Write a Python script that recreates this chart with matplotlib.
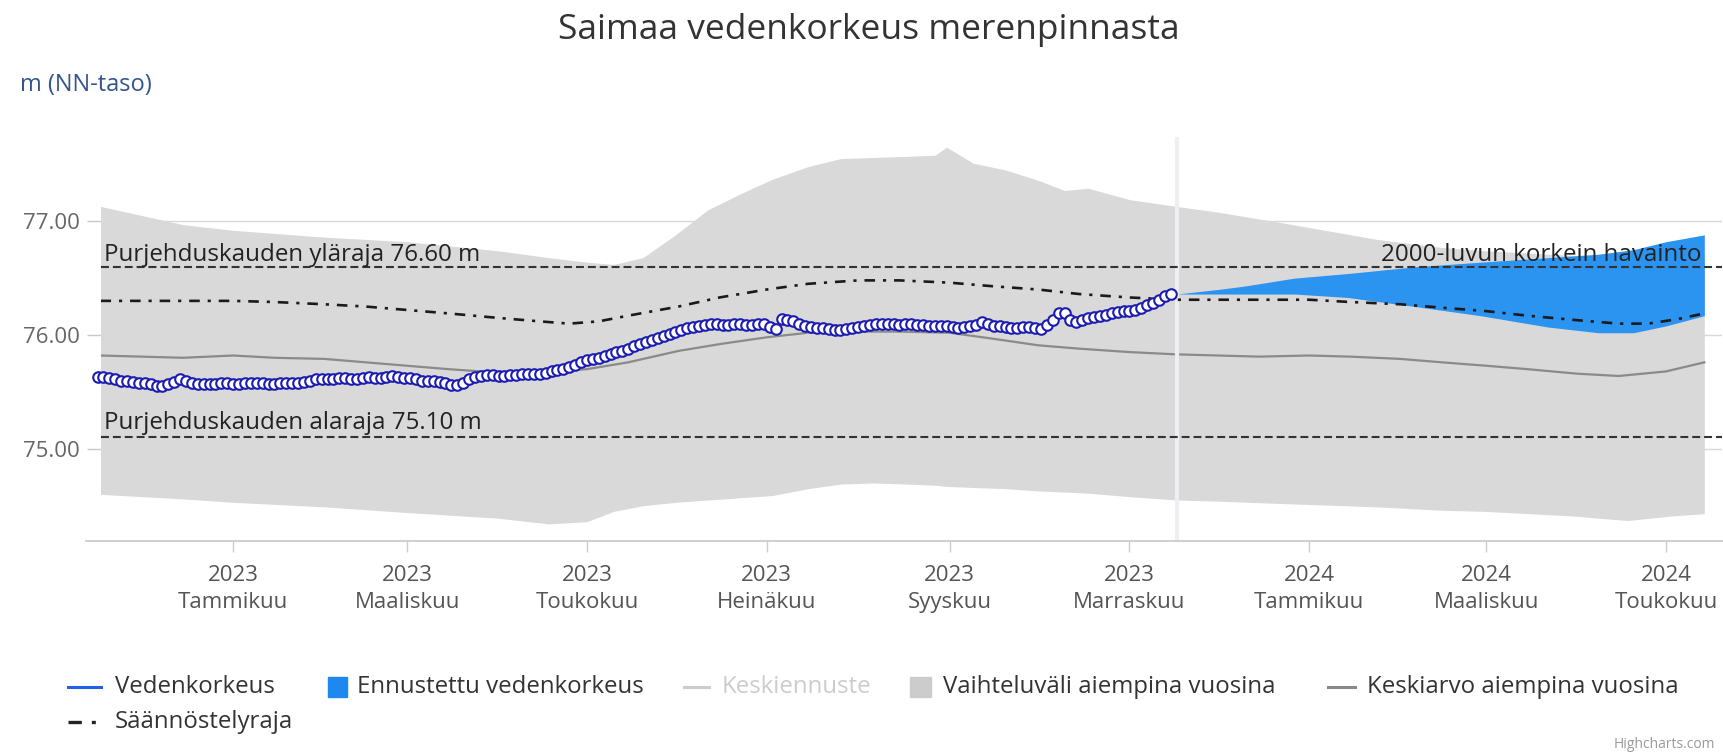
import pandas as pd
import matplotlib
matplotlib.use('Agg')
import matplotlib.pyplot as plt
from matplotlib.lines import Line2D
from matplotlib.patches import Rectangle

plt.rcParams['font.family'] = ['Open Sans', 'DejaVu Sans']

# havaittu vedenkorkeus, 2 päivän välein alkaen 2022-11-16
obs_start = '2022-11-16'
obs_values = [
    75.63, 75.63, 75.62, 75.61, 75.60, 75.60, 75.59, 75.58, 75.58, 75.57,
    75.55, 75.55, 75.57, 75.59, 75.61, 75.60, 75.58, 75.57, 75.57, 75.57,
    75.57, 75.58, 75.58, 75.57, 75.57, 75.58, 75.58, 75.58, 75.58, 75.57,
    75.57, 75.58, 75.58, 75.58, 75.58, 75.59, 75.60, 75.61, 75.61, 75.61,
    75.61, 75.62, 75.62, 75.61, 75.61, 75.62, 75.63, 75.62, 75.62, 75.63,
    75.64, 75.63, 75.62, 75.62, 75.61, 75.60, 75.60, 75.60, 75.59, 75.58,
    75.56, 75.56, 75.58, 75.61, 75.63, 75.64, 75.65, 75.65, 75.64, 75.64,
    75.65, 75.65, 75.66, 75.66, 75.66, 75.66, 75.67, 75.68, 75.69, 75.70,
    75.72, 75.74, 75.76, 75.78, 75.79, 75.80, 75.82, 75.83, 75.85, 75.86,
    75.88, 75.90, 75.92, 75.94, 75.96, 75.97, 75.99, 76.01, 76.03, 76.04,
    76.06, 76.07, 76.08, 76.09, 76.10, 76.10, 76.09, 76.09, 76.10, 76.10,
    76.09, 76.09, 76.10, 76.10, 76.07, 76.05, 76.14, 76.13, 76.12, 76.10,
    76.08, 76.07, 76.06, 76.06, 76.05, 76.04, 76.04, 76.05, 76.06, 76.07,
    76.08, 76.09, 76.10, 76.10, 76.10, 76.10, 76.09, 76.10, 76.10, 76.09,
    76.09, 76.08, 76.08, 76.08, 76.08, 76.07, 76.06, 76.07, 76.08, 76.09,
    76.11, 76.10, 76.08, 76.08, 76.07, 76.06, 76.06, 76.07, 76.07, 76.06,
    76.05, 76.09, 76.13, 76.19, 76.19, 76.13, 76.11, 76.13, 76.15, 76.16,
    76.17, 76.18, 76.19, 76.20, 76.21, 76.21, 76.22, 76.24, 76.26, 76.28,
    76.31, 76.34, 76.36,
]

# vaihteluväli aiempina vuosina
band_dates = [
    '2022-11-17', '2022-12-01', '2022-12-15', '2023-01-01', '2023-02-01',
    '2023-03-01', '2023-04-01', '2023-04-18', '2023-05-01', '2023-05-10',
    '2023-05-20', '2023-05-31', '2023-06-11', '2023-06-22', '2023-07-03',
    '2023-07-15', '2023-07-26', '2023-08-06', '2023-08-18', '2023-08-27',
    '2023-08-31', '2023-09-09', '2023-09-20', '2023-10-01', '2023-10-10',
    '2023-10-18', '2023-11-01', '2023-11-17', '2023-12-01', '2023-12-22',
    '2024-01-24', '2024-02-15', '2024-03-01', '2024-03-30', '2024-04-18',
    '2024-05-03', '2024-05-14',
]
band_high = [
    77.13, 77.05, 76.97, 76.92, 76.86, 76.82, 76.74, 76.68, 76.64, 76.62,
    76.68, 76.88, 77.10, 77.24, 77.37, 77.48, 77.55, 77.56, 77.57, 77.58,
    77.65, 77.51, 77.45, 77.36, 77.27, 77.29, 77.19, 77.13, 77.08, 76.99,
    76.84, 76.77, 76.74, 76.70, 76.68, 76.68, 76.68,
]
band_low = [
    74.60, 74.58, 74.56, 74.53, 74.49, 74.44, 74.39, 74.34, 74.36, 74.45,
    74.50, 74.53, 74.55, 74.57, 74.59, 74.65, 74.69, 74.70, 74.69, 74.68,
    74.67, 74.66, 74.65, 74.63, 74.62, 74.61, 74.58, 74.55, 74.54, 74.52,
    74.49, 74.46, 74.45, 74.41, 74.37, 74.41, 74.43,
]

# keskiarvo aiempina vuosina
mean_dates = [
    '2022-11-17', '2022-12-01', '2022-12-15', '2023-01-01', '2023-01-15',
    '2023-02-01', '2023-02-15', '2023-03-01', '2023-03-15', '2023-04-01',
    '2023-04-15', '2023-05-01', '2023-05-15', '2023-06-01', '2023-06-15',
    '2023-07-01', '2023-07-15', '2023-08-01', '2023-08-15', '2023-09-01',
    '2023-09-15', '2023-10-01', '2023-10-15', '2023-11-01', '2023-11-17',
    '2023-12-01', '2023-12-15', '2024-01-01', '2024-01-15', '2024-02-01',
    '2024-02-15', '2024-03-01', '2024-03-15', '2024-04-01', '2024-04-15',
    '2024-05-01', '2024-05-14',
]
mean_values = [
    75.82, 75.81, 75.80, 75.82, 75.80, 75.79, 75.76, 75.73, 75.70, 75.67,
    75.67, 75.70, 75.76, 75.86, 75.92, 75.98, 76.02, 76.03, 76.03, 76.02,
    75.97, 75.91, 75.88, 75.85, 75.83, 75.82, 75.81, 75.82, 75.81, 75.79,
    75.76, 75.73, 75.70, 75.66, 75.64, 75.68, 75.76,
]

# säännöstelyraja
reg_dates = [
    '2022-11-17', '2022-12-15', '2023-01-01', '2023-01-15', '2023-02-01',
    '2023-02-15', '2023-03-01', '2023-03-15', '2023-04-01', '2023-04-15',
    '2023-04-25', '2023-05-05', '2023-05-15', '2023-06-01', '2023-06-15',
    '2023-07-01', '2023-07-15', '2023-08-01', '2023-08-15', '2023-09-01',
    '2023-09-15', '2023-10-01', '2023-10-15', '2023-11-01', '2023-11-17',
    '2023-12-15', '2024-01-01', '2024-01-15', '2024-02-01', '2024-02-15',
    '2024-03-01', '2024-03-15', '2024-04-01', '2024-04-15', '2024-04-25',
    '2024-05-05', '2024-05-14',
]
reg_values = [
    76.30, 76.30, 76.30, 76.29, 76.27, 76.25, 76.22, 76.19, 76.15, 76.12,
    76.10, 76.12, 76.17, 76.25, 76.33, 76.40, 76.45, 76.48, 76.48, 76.46,
    76.43, 76.40, 76.36, 76.33, 76.31, 76.31, 76.31, 76.29, 76.27, 76.24,
    76.21, 76.17, 76.13, 76.10, 76.10, 76.14, 76.19,
]

# ennustettu vedenkorkeus
fc_dates = [
    '2023-11-17', '2023-12-01', '2023-12-10', '2023-12-27', '2024-01-14',
    '2024-02-06', '2024-02-28', '2024-03-22', '2024-04-08', '2024-04-20',
    '2024-05-01', '2024-05-14',
]
fc_high = [76.36, 76.40, 76.43, 76.50, 76.54, 76.60, 76.64, 76.68, 76.71, 76.75, 76.82, 76.88]
fc_low = [76.36, 76.36, 76.36, 76.36, 76.33, 76.25, 76.17, 76.07, 76.02, 76.02, 76.08, 76.17]

today = '2023-11-17'
sail_upper = 76.60
sail_lower = 75.10

tick_dates = ['2023-01-01', '2023-03-01', '2023-05-01', '2023-07-01', '2023-09-01',
              '2023-11-01', '2024-01-01', '2024-03-01', '2024-05-01']
month_names = {1: 'Tammikuu', 3: 'Maaliskuu', 5: 'Toukokuu', 7: 'Heinäkuu',
               9: 'Syyskuu', 11: 'Marraskuu'}

W, H = 1724, 754


def fx(x):
    return x / W


def fy(y):
    return 1 - y / H


fig = plt.figure(figsize=(W / 100, H / 100), dpi=100)
ax = fig.add_axes([fx(101), fy(541), (1722 - 101) / W, (541 - 137) / H])

obs_dates = pd.date_range(obs_start, periods=len(obs_values), freq='2D')

ax.fill_between(pd.to_datetime(band_dates), band_low, band_high, color='#d9d9d9', lw=0, zorder=1)
ax.plot(pd.to_datetime(mean_dates), mean_values, color='#8a8a8a', lw=1.6, zorder=2)
ax.fill_between(pd.to_datetime(fc_dates), fc_low, fc_high, color='#2b93f0', lw=0, zorder=3)
ax.axvline(pd.Timestamp(today), color='#eeeef3', lw=3, zorder=3.5)
ax.plot(pd.to_datetime(reg_dates), reg_values, color='#1a1a1a', lw=1.9,
        dashes=(4, 3, 1.2, 3), zorder=4)
ax.axhline(sail_upper, color='#333333', lw=1.5, dashes=(3.8, 1.9), zorder=4)
ax.axhline(sail_lower, color='#333333', lw=1.5, dashes=(3.8, 1.9), zorder=4)
ax.plot(obs_dates, obs_values, color='#2a5ae0', lw=1.5, marker='o', ms=7.6,
        mfc='white', mec='#1c1cb0', mew=1.5, zorder=5, clip_on=False)

ax.set_xlim(pd.Timestamp('2022-11-17 04:00'), pd.Timestamp('2024-05-20'))
ax.set_ylim(74.19, 77.74)

ax.set_yticks([75, 76, 77])
ax.set_yticklabels(['75.00', '76.00', '77.00'])
ax.grid(axis='y', color='#d8d8d8', lw=1, zorder=0)
ax.set_axisbelow(True)

ticks = pd.to_datetime(tick_dates)
ax.set_xticks(ticks)
ax.set_xticklabels([f'{t.year}\n{month_names[t.month]}' for t in ticks], linespacing=1.4)

for s in ax.spines.values():
    s.set_visible(False)
ax.tick_params(axis='y', length=10, width=1, color='#c8c8c8', pad=5, labelsize=16, labelcolor='#666666')
ax.tick_params(axis='x', length=8, width=1, color='#cccccc', pad=9, labelsize=16, labelcolor='#555555')

fig.add_artist(Line2D([fx(86), fx(1724)], [fy(541), fy(541)], color='#cccccc', lw=1.3))

fig.text(fx(869), fy(30), 'Saimaa vedenkorkeus merenpinnasta', ha='center', va='center',
         fontsize=25.5, color='#333333')
fig.text(fx(20), fy(85), 'm (NN-taso)', ha='left', va='center', fontsize=17, color='#34558b')

lbl_size = 17.4
fig.text(fx(104), fy(261), 'Purjehduskauden yläraja 76.60 m', ha='left', va='baseline',
         fontsize=lbl_size, color='#222222', zorder=6)
fig.text(fx(104), fy(429), 'Purjehduskauden alaraja 75.10 m', ha='left', va='baseline',
         fontsize=lbl_size, color='#222222', zorder=6)
fig.text(fx(1702), fy(261), '2000-luvun korkein havainto', ha='right', va='baseline',
         fontsize=lbl_size, color='#222222', zorder=6)

# selite
row1, row2 = 687, 722
leg_size = 17.3
fig.add_artist(Line2D([fx(68), fx(101)], [fy(row1), fy(row1)], color='#2060e8', lw=2.2))
fig.text(fx(115), fy(row1), 'Vedenkorkeus', va='center', fontsize=leg_size, color='#333333')
fig.add_artist(Rectangle((fx(328), fy(row1 + 10)), 19 / W, 20 / H, color='#1e88f0',
                         transform=fig.transFigure))
fig.text(fx(357), fy(row1), 'Ennustettu vedenkorkeus', va='center', fontsize=leg_size, color='#333333')
fig.add_artist(Line2D([fx(684), fx(709)], [fy(row1), fy(row1)], color='#cccccc', lw=2.2))
fig.text(fx(722), fy(row1), 'Keskiennuste', va='center', fontsize=leg_size, color='#cccccc')
fig.add_artist(Rectangle((fx(910), fy(row1 + 10)), 21 / W, 20 / H, color='#cccccc',
                         transform=fig.transFigure))
fig.text(fx(943), fy(row1), 'Vaihteluväli aiempina vuosina', va='center', fontsize=leg_size, color='#333333')
fig.add_artist(Line2D([fx(1328), fx(1355)], [fy(row1), fy(row1)], color='#888888', lw=2.2))
fig.text(fx(1367), fy(row1), 'Keskiarvo aiempina vuosina', va='center', fontsize=leg_size, color='#333333')
fig.add_artist(Line2D([fx(68), fx(101)], [fy(row2), fy(row2)], color='#222222', lw=2.4,
                      dashes=(4, 3, 1.2, 3)))
fig.text(fx(115), fy(row2), 'Säännöstelyraja', va='center', fontsize=leg_size, color='#333333')

fig.text(fx(1715), fy(745), 'Highcharts.com', ha='right', va='center', fontsize=10, color='#999999')

fig.savefig('out.png', dpi=100, facecolor='white')
